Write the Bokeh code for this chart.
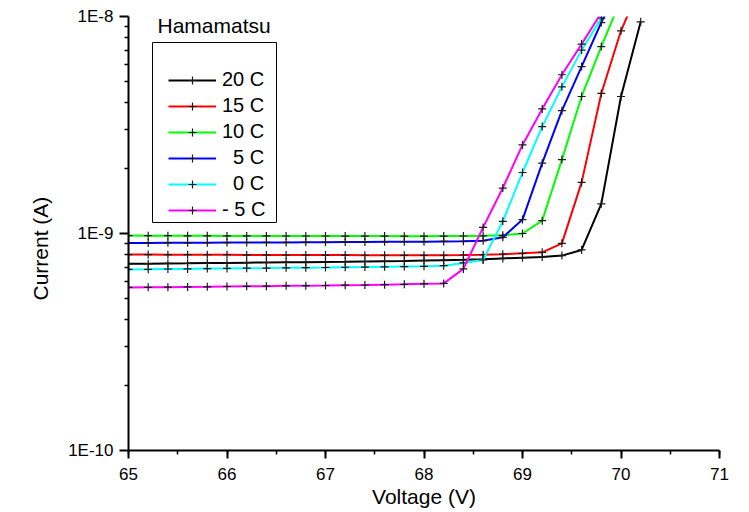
from bokeh.plotting import figure
from bokeh.models import (Range1d, FixedTicker, SingleIntervalTicker, CustomJSTickFormatter,
                          Legend, LegendItem, Label, BoxAnnotation, Title)
from bokeh.embed import file_html
from bokeh.resources import INLINE

# ---------------- data (current in nA) ----------------
voltage = [65.0, 65.2, 65.4, 65.6, 65.8, 66.0, 66.2, 66.4, 66.6, 66.8, 67.0, 67.2, 67.4,
           67.6, 67.8, 68.0, 68.2, 68.4, 68.6, 68.8, 69.0, 69.2, 69.4, 69.6, 69.8, 70.0, 70.2]

i_20C = [0.725, 0.726, 0.728, 0.729, 0.731, 0.732, 0.734, 0.735, 0.737, 0.738, 0.740, 0.741, 0.743,
         0.745, 0.747, 0.750, 0.753, 0.756, 0.760, 0.768, 0.774, 0.780, 0.791, 0.840, 1.37, 4.28, 9.45]
i_15C = [0.800, 0.800, 0.799, 0.799, 0.798, 0.798, 0.797, 0.797, 0.796, 0.796, 0.795, 0.795, 0.794,
         0.794, 0.793, 0.793, 0.794, 0.796, 0.799, 0.803, 0.810, 0.819, 0.901, 1.72, 4.42, 8.59, 14.0]
i_10C = [0.978, 0.977, 0.977, 0.976, 0.976, 0.975, 0.975, 0.975, 0.974, 0.974, 0.974, 0.973, 0.973,
         0.973, 0.972, 0.972, 0.973, 0.974, 0.976, 0.981, 1.00, 1.146, 2.19, 4.28, 7.27, 12.0]
i_5C = [0.904, 0.905, 0.906, 0.906, 0.907, 0.908, 0.909, 0.910, 0.910, 0.911, 0.912, 0.913, 0.914,
        0.915, 0.916, 0.917, 0.919, 0.921, 0.927, 0.960, 1.159, 2.11, 3.68, 5.88, 9.38, 14.5]
i_0C = [0.683, 0.684, 0.686, 0.687, 0.689, 0.690, 0.692, 0.693, 0.695, 0.696, 0.697, 0.699, 0.700,
        0.702, 0.704, 0.706, 0.711, 0.732, 0.755, 1.138, 1.91, 3.11, 4.74, 7.00, 9.83, 13.8]
i_m5C = [0.564, 0.565, 0.566, 0.567, 0.568, 0.570, 0.571, 0.572, 0.574, 0.575, 0.576, 0.578, 0.579,
         0.581, 0.583, 0.586, 0.589, 0.687, 1.067, 1.62, 2.56, 3.75, 5.39, 7.46, 10.4]

series_labels = ["20 C", "15 C", "10 C", "\u20075 C", "\u20070 C", "- 5 C"]
series_values = [i_20C, i_15C, i_10C, i_5C, i_0C, i_m5C]
series_colors = ["#000000", "#ff0000", "#00ff00", "#0000ff", "#00ffff", "#ff00ff"]

y_ticks = [1e-10, 1e-9, 1e-8]
y_minor = [2e-10, 3e-10, 4e-10, 5e-10, 6e-10, 7e-10, 8e-10, 9e-10,
           2e-9, 3e-9, 4e-9, 5e-9, 6e-9, 7e-9, 8e-9, 9e-9]

FONT = "Liberation Sans"

p = figure(width=749, height=512, y_axis_type="log",
           x_range=Range1d(65, 71), y_range=Range1d(1e-10, 1e-8),
           output_backend="svg", toolbar_location=None,
           min_border_left=128, min_border_right=30, min_border_top=16, min_border_bottom=62)
p.outline_line_color = None
p.xgrid.visible = False
p.ygrid.visible = False
p.background_fill_color = "white"
p.border_fill_color = "white"

items = []
for lab, vals, col in zip(series_labels, series_values, series_colors):
    xs = voltage[:len(vals)]
    ys = [v * 1e-9 for v in vals]
    lr = p.line(xs, ys, line_color=col, line_width=2)
    sr = p.scatter(xs, ys, marker="cross", size=8, line_color="#1a1a1a", line_width=1.2)
    items.append(LegendItem(label=lab, renderers=[lr, sr]))

# axes
for ax in (p.xaxis[0], p.yaxis[0]):
    ax.axis_line_width = 2
    ax.axis_line_color = "black"
    ax.major_tick_line_width = 2
    ax.minor_tick_line_width = 1.5
    ax.major_tick_line_color = "black"
    ax.minor_tick_line_color = "black"
    ax.major_tick_in = 0
    ax.minor_tick_in = 0
    ax.major_label_text_font = FONT
    ax.major_label_text_font_size = "17px"
    ax.major_label_text_color = "black"

p.xaxis.ticker = SingleIntervalTicker(interval=1, num_minor_ticks=2)
p.xaxis.major_tick_out = 8
p.xaxis.minor_tick_out = 4
p.xaxis.major_label_standoff = 9
p.xaxis.axis_label = "Voltage (V)"
p.xaxis.axis_label_standoff = 2
p.xaxis.axis_label_text_font = FONT
p.xaxis.axis_label_text_font_size = "21px"
p.xaxis.axis_label_text_font_style = "normal"
p.xaxis.axis_label_text_color = "black"

p.yaxis.ticker = FixedTicker(ticks=y_ticks, minor_ticks=y_minor)
p.yaxis.formatter = CustomJSTickFormatter(code='return "1E" + Math.round(Math.log10(tick)).toString();')
p.yaxis.major_tick_out = 9
p.yaxis.minor_tick_out = 4
p.yaxis.major_label_standoff = 6

# y title (shifted down like the reference)
p.add_layout(Title(text="Current (A)", align="left", offset=150, standoff=28,
                   text_font=FONT, text_font_size="21px", text_font_style="normal",
                   text_color="black"), "left")

# legend
legend = Legend(items=items, location=(40, 229), border_line_alpha=0, background_fill_alpha=0,
                padding=0, margin=0, spacing=3, glyph_width=48, glyph_height=20,
                label_height=20, label_standoff=6,
                label_text_font=FONT, label_text_font_size="20px", label_text_color="black")
p.add_layout(legend)
p.add_layout(BoxAnnotation(left=24, right=148, bottom=228, top=408,
                           left_units="screen", right_units="screen",
                           bottom_units="screen", top_units="screen",
                           fill_alpha=0, line_color="black", line_alpha=1, line_width=1))
p.add_layout(Label(x=29, y=425, x_units="screen", y_units="screen", text="Hamamatsu",
                   text_align="left", text_baseline="alphabetic",
                   text_font=FONT, text_font_size="21px", text_color="black"))

open("out.html", "w").write(file_html(p, INLINE))
